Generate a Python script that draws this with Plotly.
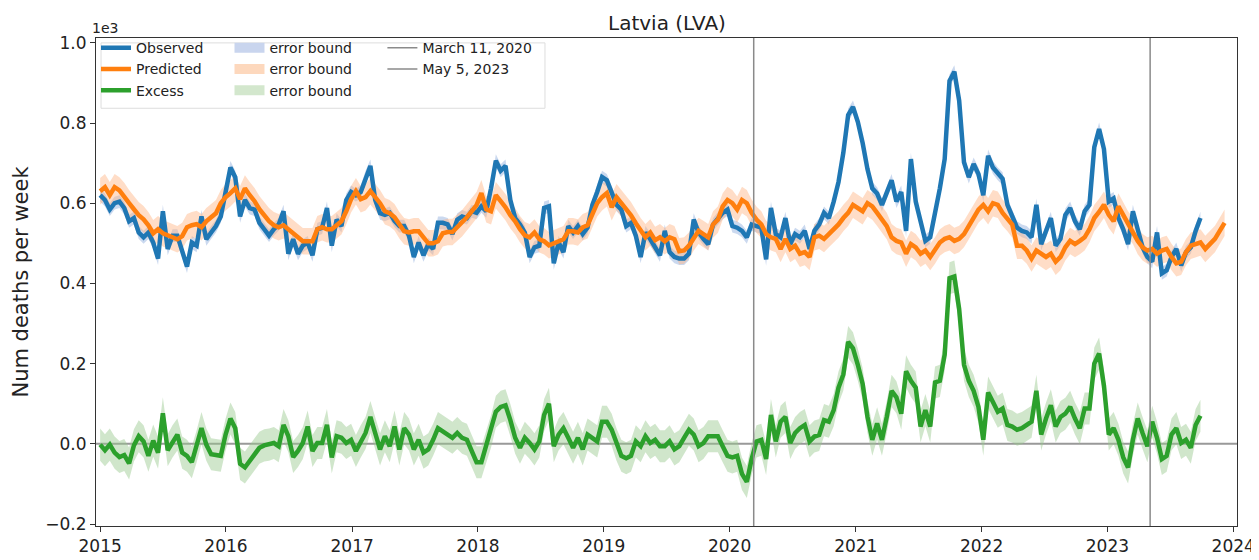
import pandas as pd
import plotly.graph_objects as go

# ---------------- data (values in thousands of deaths per week) ----------------
start_date = "2015-01-01"
step = "14D"

observed = [
    0.620, 0.608, 0.584, 0.600, 0.604, 0.588, 0.555, 0.563, 0.527, 0.515,
    0.527, 0.502, 0.462, 0.580, 0.486, 0.519, 0.519, 0.478, 0.442, 0.502,
    0.494, 0.567, 0.510, 0.527, 0.543, 0.567, 0.624, 0.689, 0.665, 0.567,
    0.608, 0.588, 0.584, 0.551, 0.535, 0.519, 0.535, 0.547, 0.580, 0.474,
    0.510, 0.474, 0.494, 0.502, 0.470, 0.535, 0.539, 0.588, 0.494, 0.559,
    0.543, 0.608, 0.628, 0.620, 0.628, 0.665, 0.693, 0.608, 0.575, 0.571,
    0.576, 0.556, 0.543, 0.543, 0.519, 0.466, 0.502, 0.470, 0.498, 0.486,
    0.551, 0.551, 0.547, 0.523, 0.559, 0.567, 0.563, 0.580, 0.576, 0.592,
    0.580, 0.637, 0.706, 0.681, 0.693, 0.608, 0.563, 0.547, 0.527, 0.466,
    0.490, 0.494, 0.588, 0.592, 0.450, 0.502, 0.478, 0.543, 0.527, 0.543,
    0.523, 0.539, 0.596, 0.628, 0.665, 0.657, 0.628, 0.596, 0.584, 0.543,
    0.551, 0.519, 0.466, 0.527, 0.510, 0.490, 0.470, 0.531, 0.478, 0.466,
    0.462, 0.462, 0.474, 0.559, 0.527, 0.511, 0.498, 0.547, 0.563, 0.576,
    0.584, 0.543, 0.539, 0.531, 0.515, 0.547, 0.543, 0.539, 0.460, 0.588,
    0.523, 0.515, 0.563, 0.498, 0.523, 0.515, 0.531, 0.486, 0.531, 0.547,
    0.576, 0.563, 0.604, 0.653, 0.726, 0.820, 0.840, 0.803, 0.750, 0.685,
    0.637, 0.624, 0.596, 0.628, 0.657, 0.604, 0.628, 0.531, 0.710, 0.604,
    0.555, 0.506, 0.515, 0.571, 0.637, 0.710, 0.905, 0.928,
    0.856, 0.702, 0.665, 0.698, 0.673, 0.620, 0.718, 0.689, 0.673, 0.661,
    0.596, 0.568, 0.539, 0.531, 0.527, 0.515, 0.596, 0.498, 0.531, 0.563,
    0.494, 0.511, 0.571, 0.588, 0.555, 0.535, 0.580, 0.596, 0.740, 0.785,
    0.735, 0.604, 0.612, 0.563, 0.535, 0.498, 0.580, 0.531, 0.490, 0.466,
    0.454, 0.527, 0.425, 0.433, 0.466, 0.486, 0.445, 0.478, 0.490, 0.531,
    0.563,
]

predicted = [
    0.630, 0.640, 0.620, 0.640, 0.632, 0.618, 0.600, 0.585, 0.570, 0.560,
    0.545, 0.525, 0.535, 0.525, 0.520, 0.515, 0.510, 0.518, 0.540, 0.545,
    0.548, 0.540, 0.555, 0.565, 0.575, 0.600, 0.615, 0.625, 0.637, 0.610,
    0.637, 0.620, 0.605, 0.585, 0.570, 0.555, 0.545, 0.540, 0.545, 0.535,
    0.525, 0.515, 0.505, 0.505, 0.505, 0.535, 0.540, 0.535, 0.535, 0.545,
    0.555, 0.580, 0.610, 0.630, 0.610, 0.615, 0.630, 0.615, 0.600, 0.580,
    0.575, 0.565, 0.545, 0.530, 0.527, 0.530, 0.530, 0.515, 0.500, 0.500,
    0.505, 0.525, 0.528, 0.528, 0.540, 0.550, 0.565, 0.580, 0.595, 0.625,
    0.585, 0.580, 0.620, 0.605, 0.590, 0.570, 0.555, 0.535, 0.520, 0.515,
    0.527, 0.510, 0.505, 0.495, 0.500, 0.505, 0.510, 0.530, 0.530, 0.527,
    0.540, 0.545, 0.575, 0.600, 0.615, 0.625, 0.590, 0.615, 0.600, 0.585,
    0.570, 0.550, 0.530, 0.515, 0.527, 0.508, 0.515, 0.505, 0.515, 0.510,
    0.480, 0.482, 0.494, 0.515, 0.531, 0.523, 0.515, 0.547, 0.559, 0.592,
    0.608, 0.600, 0.584, 0.608, 0.600, 0.576, 0.559, 0.547, 0.523, 0.515,
    0.511, 0.486, 0.511, 0.486, 0.494, 0.474, 0.478, 0.466, 0.515, 0.519,
    0.511, 0.523, 0.535, 0.547, 0.563, 0.576, 0.596, 0.588, 0.580, 0.600,
    0.592, 0.576, 0.559, 0.543, 0.515, 0.506, 0.502, 0.474, 0.498, 0.490,
    0.474, 0.482, 0.466, 0.482, 0.502, 0.511, 0.515, 0.506,
    0.511, 0.523, 0.543, 0.563, 0.584, 0.596, 0.580, 0.600, 0.596, 0.576,
    0.563, 0.547, 0.494, 0.494, 0.482, 0.462, 0.482, 0.474, 0.466, 0.474,
    0.454, 0.466, 0.490, 0.506, 0.498, 0.506, 0.515, 0.535, 0.563, 0.578,
    0.596, 0.571, 0.555, 0.592, 0.571, 0.547, 0.531, 0.506, 0.490, 0.482,
    0.486, 0.474, 0.482, 0.486, 0.466, 0.450, 0.454, 0.478, 0.494, 0.498,
    0.502, 0.486, 0.498, 0.511, 0.531, 0.551,
]

excess = [
    -0.002, -0.016, -0.002, -0.022, -0.033, -0.028, -0.049, -0.004, 0.019, 0.006,
    -0.030, 0.008, -0.022, 0.076, -0.016, 0.006, 0.023, -0.022, -0.030, -0.046,
    -0.006, 0.039, -0.002, -0.026, -0.028, -0.030, 0.023, 0.063, 0.039, -0.050,
    -0.059, -0.042, -0.026, -0.010, -0.004, -0.002, 0.002, -0.006, 0.047, 0.019,
    -0.033, -0.018, 0.002, 0.043, -0.018, 0.002, 0.002, 0.047, -0.034, 0.019,
    0.015, 0.002, 0.010, -0.018, 0.006, 0.027, 0.067, 0.027, -0.014, 0.019,
    -0.006, 0.043, -0.014, 0.039,
    0.023, -0.014, 0.010, -0.022, -0.014, 0.010, 0.039, 0.031, 0.023, 0.015,
    0.027, 0.015, 0.010, -0.018, -0.046, -0.046, -0.006, 0.031, 0.080, 0.092,
    0.096, 0.059, 0.015, -0.010, 0.015, 0.002, -0.014, 0.006, 0.072, 0.100,
    -0.006, 0.023, 0.039, 0.015, -0.010, 0.015, -0.014, 0.023, 0.015, 0.006,
    0.055, 0.055, 0.035, -0.002, -0.030, -0.036, -0.030, 0.006, -0.006, 0.019,
    0.002, 0.010, -0.006, -0.006, 0.006, -0.014, -0.006, 0.015, 0.035, 0.023,
    -0.006, 0.002, 0.019, 0.019, 0.019, -0.006,
    -0.030, -0.034, -0.030, -0.075, -0.095, -0.038, 0.006, 0.010, -0.038, 0.072,
    0.006, 0.055, 0.067, 0.002, 0.027, 0.039, 0.047, 0.006, 0.018, 0.022,
    0.059, 0.055, 0.084, 0.140, 0.173, 0.254, 0.238, 0.197, 0.149, 0.067,
    0.010, 0.051, 0.010, 0.067, 0.132, 0.116, 0.075, 0.181, 0.157, 0.140,
    0.043, 0.084, 0.043, 0.153, 0.157, 0.222, 0.413, 0.417, 0.336, 0.197,
    0.157, 0.132, 0.092,
    0.010, 0.128, 0.104, 0.080, 0.088, 0.047, 0.043, 0.035, 0.039, 0.047,
    0.055, 0.132, 0.023, 0.063, 0.096, 0.043, 0.067, 0.075, 0.092, 0.063,
    0.039, 0.088, 0.088, 0.200, 0.225, 0.145, 0.023, 0.039, 0.010, -0.034,
    -0.059, 0.010, 0.063, 0.027, -0.006, 0.055, 0.015, -0.038, -0.030, 0.023,
    0.039, 0.002, 0.010, -0.010, 0.047, 0.070,
]

# half-widths of the shaded error bounds (thousands)
obs_err = 0.016
pred_err = 0.033
exc_err = 0.040

event_dates = ["2020-03-11", "2023-05-05"]
event_labels = ["March 11, 2020", "May 5, 2023"]
year_ticks = list(range(2015, 2025))
y_ticks = [-0.2, 0.0, 0.2, 0.4, 0.6, 0.8, 1.0]

# ---------------- figure ----------------
BLUE, ORANGE, GREEN = "#1f77b4", "#ff7f0e", "#2ca02c"
BAND = {"obs": "rgba(160,185,225,0.55)", "pred": "rgba(255,180,130,0.45)",
        "exc": "rgba(150,200,140,0.45)"}
BAND_KEY = {"obs": "#c9d5ee", "pred": "#fdd8bd", "exc": "#d3e7cd"}

dates_pred = pd.date_range(start_date, periods=len(predicted), freq=step)
dates_obs = dates_pred[:len(observed)]
dates_exc = dates_pred[:len(excess)]

fig = go.Figure()


def add_band(x, y, err, key, rank):
    lo = [v - err for v in y]
    hi = [v + err for v in y]
    fig.add_trace(go.Scatter(x=x, y=lo, mode="lines", line=dict(width=0),
                             showlegend=False, hoverinfo="skip"))
    fig.add_trace(go.Scatter(x=x, y=hi, mode="lines", line=dict(width=0),
                             fill="tonexty", fillcolor=BAND[key], name="error bound",
                             showlegend=False, hoverinfo="skip"))
    # legend key (patch) for the band
    fig.add_trace(go.Scatter(x=[None], y=[None], mode="lines", name="error bound",
                             line=dict(color=BAND_KEY[key], width=14),
                             legend="legend2", legendrank=rank))


add_band(dates_obs, observed, obs_err, "obs", 1)
add_band(dates_pred, predicted, pred_err, "pred", 2)
add_band(dates_exc, excess, exc_err, "exc", 3)

fig.add_trace(go.Scatter(x=dates_obs, y=observed, mode="lines", name="Observed",
                         line=dict(color=BLUE, width=4.5), legend="legend", legendrank=1))
fig.add_trace(go.Scatter(x=dates_pred, y=predicted, mode="lines", name="Predicted",
                         line=dict(color=ORANGE, width=4.5), legend="legend", legendrank=2))
fig.add_trace(go.Scatter(x=dates_exc, y=excess, mode="lines", name="Excess",
                         line=dict(color=GREEN, width=4.5), legend="legend", legendrank=3))

for i, (d, lab) in enumerate(zip(event_dates, event_labels)):
    fig.add_trace(go.Scatter(x=[d, d], y=[-1, 2], mode="lines", name=lab,
                             line=dict(color="#8a8a8a", width=1.5),
                             legend="legend3", legendrank=i + 1, hoverinfo="skip"))

# zero line
fig.add_shape(type="line", xref="paper", x0=0, x1=1, yref="y", y0=0, y1=0,
              line=dict(color="#999999", width=2), layer="below")
# legend frame
fig.add_shape(type="rect", xref="paper", yref="paper", x0=0.0044, x1=0.3935,
              y0=0.856, y1=0.99, line=dict(color="#dddddd", width=1),
              fillcolor="rgba(255,255,255,0.85)", layer="below")

FONT = "DejaVu Sans, Liberation Sans, sans-serif"
leg_common = dict(orientation="v", yanchor="top", y=1.012, xanchor="left",
                  bgcolor="rgba(0,0,0,0)", borderwidth=0,
                  font=dict(size=14, color="#222222", family=FONT),
                  tracegroupgap=0, itemwidth=30, traceorder="normal")

fig.update_layout(
    width=1259, height=560,
    margin=dict(l=88, r=30, t=30, b=30),
    paper_bgcolor="white", plot_bgcolor="white",
    font=dict(family=FONT, color="#222222"),
    legend=dict(x=0.0, **leg_common),
    legend2=dict(x=0.117, **leg_common),
    legend3=dict(x=0.251, **leg_common),
    showlegend=True,
)

fig.update_xaxes(
    type="date", range=["2014-12-20", "2024-01-12"],
    tickvals=[f"{y}-01-01" for y in year_ticks], ticktext=[str(y) for y in year_ticks],
    ticks="outside", ticklen=5, tickcolor="#333", tickfont=dict(size=17),
    showline=True, linecolor="#333", linewidth=1, mirror=True, showgrid=False,
    zeroline=False,
)
fig.update_yaxes(
    range=[-0.205, 1.012],
    tickvals=y_ticks, ticktext=[f"{v:.1f}".replace("-", "\u2212") for v in y_ticks],
    ticks="outside", ticklen=5, tickcolor="#333", tickfont=dict(size=17),
    showline=True, linecolor="#333", linewidth=1, mirror=True, showgrid=False,
    zeroline=False,
    title=dict(text="Num deaths per week", font=dict(size=21), standoff=10),
)

# title
fig.add_annotation(text="Latvia (LVA)", xref="paper", yref="paper", x=0.5, y=1.0,
                   xanchor="center", yanchor="bottom", showarrow=False, yshift=1,
                   font=dict(size=20, family=FONT, color="#222222"))
# scale offset text
fig.add_annotation(text="1e3", xref="paper", yref="paper", x=0.0, y=1.0,
                   xanchor="left", yanchor="bottom", showarrow=False,
                   xshift=-6, yshift=0, font=dict(size=14, family=FONT))

fig.write_html("out.html")
